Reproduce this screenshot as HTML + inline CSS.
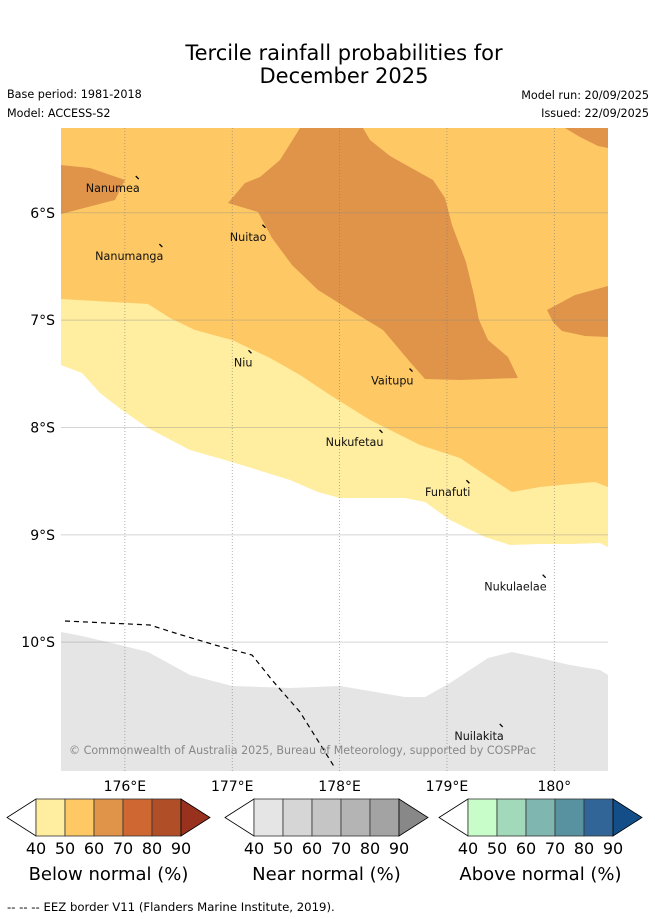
<!DOCTYPE html>
<html><head><meta charset="utf-8">
<style>
html,body{margin:0;padding:0;background:#fff;}
svg{display:block;font-family:"DejaVu Sans","Liberation Sans",sans-serif;}
</style></head>
<body>
<svg id="fig" width="655" height="919" viewBox="0 0 655 919" xmlns="http://www.w3.org/2000/svg">
<text x="344" y="60" font-size="21" text-anchor="middle">Tercile rainfall probabilities for</text>
<text x="344" y="83" font-size="21" text-anchor="middle">December 2025</text>
<text x="7" y="98" font-size="11.2">Base period: 1981-2018</text>
<text x="7" y="117" font-size="11.2">Model: ACCESS-S2</text>
<text x="649" y="99" font-size="11.2" text-anchor="end">Model run: 20/09/2025</text>
<text x="649" y="117" font-size="11.2" text-anchor="end">Issued: 22/09/2025</text>
<g id="map"></g>
<g id="cbars"></g>
<text x="7" y="911" font-size="11.7">--  --  -- EEZ border V11 (Flanders Marine Institute, 2019).</text>
</svg>
<script>
const NS="http://www.w3.org/2000/svg";
const lonMin=175.405, lonMax=180.5, latTop=-5.21, latBot=-11.2;
const X0=61,X1=608,Y0=128,Y1=771;
const lonTicks=[176,177,178,179,180];
const lonLabels=["176°E","177°E","178°E","179°E","180°"];
const latTicks=[-6,-7,-8,-9,-10];
const latLabels=["6°S","7°S","8°S","9°S","10°S"];
function px(lon){return X0+(lon-lonMin)/(lonMax-lonMin)*(X1-X0);}
function py(lat){return Y0+(latTop-lat)/(latTop-latBot)*(Y1-Y0);}
const nearWhiteEdge=[[61,365],[82,373],[100,393],[122,410],[148,428],[190,450],[232,462],[290,480],[318,492],[340,498],[405,498],[425,502],[450,520],[485,537],[510,545],[540,544],[570,544],[600,543],[608,547]];
const yellowOrangeEdge=[[61,299],[148,304],[170,318],[195,330],[232,340],[270,358],[300,375],[330,395],[370,420],[420,445],[460,458],[490,478],[512,492],[540,487],[570,484],[595,482],[608,487]];
const darkMain=[[300,128],[363,128],[370,140],[390,156],[415,170],[433,180],[445,198],[452,225],[466,262],[474,295],[479,320],[488,340],[508,357],[518,378],[460,380],[425,379],[410,362],[383,330],[350,310],[318,290],[292,265],[272,238],[258,212],[228,203],[245,183],[260,177],[280,160]];
const darkLeft=[[61,165],[90,168],[125,180],[115,200],[61,214]];
const darkRight=[[547,310],[575,295],[608,286],[608,337],[585,336],[562,331],[553,322]];
const darkTopRight=[[565,128],[608,128],[608,148],[598,146],[580,137]];
const greyEdge=[[61,632],[82,636],[120,645],[148,652],[190,675],[232,686],[290,688],[340,686],[405,697],[425,697],[450,683],[488,658],[512,652],[540,658],[570,665],[600,670],[608,675]];
const eez=[[65,621],[150,625],[175,633],[215,645],[252,655],[272,680],[300,712],[335,768]];
const islands=["Nanumea","Nanumanga","Nuitao","Niu","Vaitupu","Nukufetau","Funafuti","Nukulaelae","Nuilakita"];
const islandLon=[176.12,176.34,177.30,177.17,178.67,178.39,179.20,179.91,179.51];
const islandLat=[-5.676,-6.31,-6.13,-7.30,-7.47,-8.04,-8.51,-9.39,-10.78];
const map=document.getElementById('map');
function el(t,a,p){const e=document.createElementNS(NS,t);for(const k in a)e.setAttribute(k,a[k]);(p||map).appendChild(e);return e;}
function pts(a){return a.map(p=>p.join(',')).join(' ');}
let e;
e=el('rect',{x:X0,y:Y0,width:X1-X0,height:Y1-Y0,fill:'#fff'});


e=el('polygon',{points:pts([[61,128],[608,128]].concat(nearWhiteEdge.slice().reverse())),fill:'#ffeda0'});


e=el('polygon',{points:pts([[61,128],[608,128]].concat(yellowOrangeEdge.slice().reverse())),fill:'#fec965'});


[darkMain,darkLeft,darkRight,darkTopRight].forEach((d,i)=>{
 e=el('polygon',{points:pts(d),fill:'#e0944a'});
 
 
});
e=el('polygon',{points:pts(greyEdge.concat([[608,771],[61,771]])),fill:'#e5e5e5'});


lonTicks.forEach((l,i)=>{
 const x=px(l);
 e=el('line',{x1:x,y1:Y0,x2:x,y2:Y1,stroke:'#777','stroke-width':0.8,'stroke-dasharray':'1,2','stroke-opacity':0.7});
 
 
 e=el('text',{x:x,y:791,'font-size':14,'text-anchor':'middle'});e.textContent=lonLabels[i];
 
 
});
latTicks.forEach((l,i)=>{
 const y=py(l);
 e=el('line',{x1:X0,y1:y,x2:X1,y2:y,stroke:'#888','stroke-width':1,'stroke-opacity':0.35});
 
 
 e=el('text',{x:55,y:y+5,'font-size':14,'text-anchor':'end'});e.textContent=latLabels[i];
 
 
});
e=el('polyline',{points:pts(eez),fill:'none',stroke:'#000','stroke-width':1.2,'stroke-dasharray':'5,4'});


islands.forEach((n,i)=>{
 const x=px(islandLon[i]),y=py(islandLat[i]);
 e=el('line',{x1:x-2,y1:y-2,x2:x+1,y2:y+1,stroke:'#000','stroke-width':1.3});
 
 
 e=el('text',{x:x+2,y:y+14,'font-size':11.2,'text-anchor':'end',fill:'#111'});e.textContent=n;
 
 
});
e=el('text',{x:69,y:754,'font-size':11.1,fill:'#888'});e.textContent='© Commonwealth of Australia 2025, Bureau of Meteorology, supported by COSPPac';


const cbTitles=["Below normal (%)","Near normal (%)","Above normal (%)"];
const cbTicks=["40","50","60","70","80","90"];
const cbColors=[["#ffeda0","#fec965","#e0944a","#cf6733","#b04e28","#98321f"],["#e5e5e5","#d6d6d6","#c5c5c5","#b4b4b4","#a3a3a3","#888888"],["#c8fdc9","#a3d9bb","#80b6b0","#5892a0","#316597","#144e88"]];
const cbStart=[7,225,439];
const cb=document.getElementById('cbars');
cbStart.forEach((s,b)=>{
 const y0=799,y1=836,ym=817.5,w=29;
 const r0=s+29;
 e=el('polygon',{points:pts([[s,ym],[r0,y0],[r0,y1]]),fill:'#fff',stroke:'#000','stroke-width':0.8},cb);
 
 
 for(let i=0;i<5;i++){
  e=el('rect',{x:r0+i*w,y:y0,width:w,height:y1-y0,fill:cbColors[b][i],stroke:'#333','stroke-width':0.8},cb);
  
  
 }
 const r1=r0+5*w;
 e=el('polygon',{points:pts([[r1,y0],[r1+29,ym],[r1,y1]]),fill:cbColors[b][5],stroke:'#000','stroke-width':0.8},cb);
 
 
 cbTicks.forEach((t,i)=>{
  e=el('text',{x:r0+i*w,y:854,'font-size':16,'text-anchor':'middle'},cb);e.textContent=t;
  
  
 });
 e=el('text',{x:r0+2.5*w,y:880,'font-size':18,'text-anchor':'middle'},cb);e.textContent=cbTitles[b];
 
 
});
</script>
</body></html>
